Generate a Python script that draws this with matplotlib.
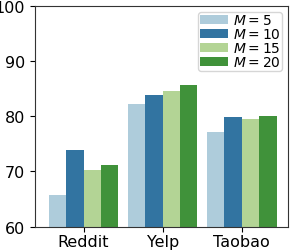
import matplotlib
matplotlib.use("Agg")
import matplotlib.pyplot as plt
import numpy as np
import seaborn as sns

datasets = ["Reddit", "Yelp", "Taobao"]
m_values = [5, 10, 15, 20]
scores = {
    5: [65.8, 82.2, 77.2],
    10: [73.9, 83.8, 79.9],
    15: [70.2, 84.6, 79.5],
    20: [71.2, 85.7, 80.0],
}

colors = [sns.desaturate(c, 0.75) for c in sns.color_palette("Paired", 4)]

fig = plt.figure(figsize=(2.91, 2.51), dpi=100)
ax = fig.add_axes([0.120, 0.093, 0.871, 0.880])

x = np.arange(len(datasets))
width = 0.22
for i, m in enumerate(m_values):
    ax.bar(x + (i - 1.5) * width, scores[m], width, color=colors[i],
           label=f"$M={m}$")

ax.set_ylim(60, 100)
ax.set_yticks([60, 70, 80, 90, 100])
ax.set_xticks(x)
ax.set_xticklabels(datasets)
ax.set_xlim(-0.615, 2.59)
ax.tick_params(labelsize=11.5)
ax.tick_params(axis="x", pad=2)
for s in ax.spines.values():
    s.set_color("0.2")
ax.legend(loc="upper right", fontsize=10, labelspacing=0.0, borderpad=0.1,
          handletextpad=0.4, borderaxespad=0.45)

fig.savefig("out.png", dpi=100)
